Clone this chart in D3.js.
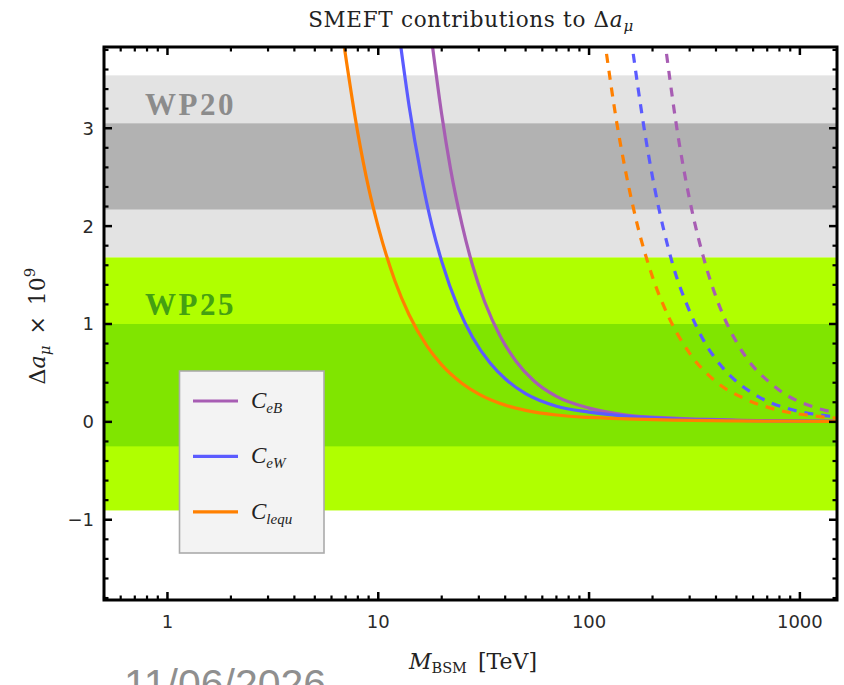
<!DOCTYPE html>
<html><head><meta charset="utf-8">
<script src="https://cdn.jsdelivr.net/npm/d3@7"></script>
<style>body{margin:0;background:#fff;}svg{display:block;}</style>
</head><body>
<svg id="chart" width="844" height="685"></svg>
<script>
// ---------- data ----------
const xDomain = [0.5, 1500];
const yDomain = [-1.82, 3.83];
const xTickValues = [1, 10, 100, 1000];
const xTickLabels = ["1", "10", "100", "1000"];
const yTickValues = [-1, 0, 1, 2, 3];
const yTickLabels = ["\u22121", "0", "1", "2", "3"];

// bands: [low, high]
const wp20Outer = [1.68, 3.54];
const wp20Inner = [2.17, 3.05];
const wp25Outer = [-0.905, 1.68];
const wp25Inner = [-0.25, 1.0];

// solid curves (M in TeV, Δa_μ × 10^9)
const ceBSolidM = [18.1, 20, 22, 25, 28, 32, 38, 45, 55, 70, 100, 150, 250, 500, 1500];
const ceBSolidV = [3.83, 3.14, 2.59, 2.01, 1.60, 1.225, 0.87, 0.62, 0.415, 0.26, 0.14, 0.07, 0.038, 0.018, 0.006];
const ceWSolidM = [12.8, 14, 16, 18, 20, 24, 28, 34, 40, 50, 70, 100, 150, 250, 500, 1500];
const ceWSolidV = [3.83, 3.23, 2.51, 2.00, 1.64, 1.16, 0.865, 0.598, 0.44, 0.288, 0.16, 0.10, 0.058, 0.03, 0.014, 0.005];
const cleSolidM = [6.9, 8, 9, 10, 12, 14, 17, 20, 25, 30, 40, 50, 70, 100, 150, 250, 500, 1500];
const cleSolidV = [3.83, 2.95, 2.39, 1.99, 1.44, 1.095, 0.776, 0.582, 0.393, 0.284, 0.171, 0.118, 0.07, 0.045, 0.03, 0.018, 0.01, 0.005];

// dashed curves
const ceBDashM = [233, 260, 300, 350, 420, 500, 600, 713, 850, 1000, 1200, 1500];
const ceBDashV = [3.76, 3.02, 2.27, 1.67, 1.157, 0.817, 0.567, 0.41, 0.283, 0.204, 0.142, 0.091];
const ceWDashM = [162, 180, 205, 225, 250, 300, 350, 420, 490, 600, 700, 850, 1000, 1200, 1500];
const ceWDashV = [3.76, 3.08, 2.38, 1.98, 1.60, 1.13, 0.83, 0.58, 0.43, 0.29, 0.21, 0.145, 0.104, 0.075, 0.05];
const cleDashM = [121, 135, 150, 170, 200, 240, 300, 400, 550, 800, 1150, 1500];
const cleDashV = [3.76, 3.07, 2.53, 2.00, 1.48, 1.06, 0.70, 0.41, 0.235, 0.117, 0.062, 0.038];

const seriesNames = ["eB", "eW", "lequ"];
const seriesColors = ["#a75db3", "#5b5bff", "#ff8000"];

// ---------- layout ----------
const svg = d3.select("#chart");
const L = 104, R = 837, T = 47, B = 600;
const x = d3.scaleLog().domain(xDomain).range([L, R]);
const y = d3.scaleLinear().domain(yDomain).range([B, T]);

svg.append("defs").append("clipPath").attr("id", "clip")
  .append("rect").attr("x", L).attr("y", T).attr("width", R - L).attr("height", B - T);

const plot = svg.append("g").attr("clip-path", "url(#clip)");

function band(b, color) {
  plot.append("rect").attr("x", L).attr("width", R - L)
    .attr("y", y(b[1])).attr("height", y(b[0]) - y(b[1])).attr("fill", color);
}
band(wp20Outer, "#e3e3e3");
band(wp20Inner, "#b2b2b2");
band(wp25Outer, "#b0ff00");
band(wp25Inner, "#80e500");

plot.append("text").attr("x", 145).attr("y", 115)
  .attr("font-family", "Liberation Serif, serif").attr("font-weight", "bold")
  .attr("font-size", 31).attr("letter-spacing", 2.5).attr("fill", "#8c8c8c").text("WP20");
plot.append("text").attr("x", 145).attr("y", 315)
  .attr("font-family", "Liberation Serif, serif").attr("font-weight", "bold")
  .attr("font-size", 31).attr("letter-spacing", 2.5).attr("fill", "#44a012").text("WP25");

const line = d3.line().x(d => x(d[0])).y(d => y(d[1])).curve(d3.curveMonotoneX);
function curve(ms, vs, color, dashed) {
  const pts = ms.map((m, i) => [m, vs[i]]);
  plot.append("path").datum(pts).attr("d", line).attr("fill", "none")
    .attr("stroke", color).attr("stroke-width", 3.2)
    .attr("stroke-dasharray", dashed ? "9,8" : null);
}
curve(ceBSolidM, ceBSolidV, seriesColors[0], false);
curve(ceWSolidM, ceWSolidV, seriesColors[1], false);
curve(cleSolidM, cleSolidV, seriesColors[2], false);
curve(ceBDashM, ceBDashV, seriesColors[0], true);
curve(ceWDashM, ceWDashV, seriesColors[1], true);
curve(cleDashM, cleDashV, seriesColors[2], true);

// ---------- legend ----------
const lg = svg.append("g");
lg.append("rect").attr("x", 179.5).attr("y", 371).attr("width", 144.5).attr("height", 182)
  .attr("fill", "#f3f3f3").attr("stroke", "#ababab").attr("stroke-width", 1.6);
seriesNames.forEach((n, i) => {
  const yy = 401 + i * 55.4;
  lg.append("line").attr("x1", 193).attr("x2", 238).attr("y1", yy).attr("y2", yy)
    .attr("stroke", seriesColors[i]).attr("stroke-width", 3.2);
  const t = lg.append("text").attr("x", 251).attr("y", yy + 7)
    .attr("font-family", "Liberation Serif, serif").attr("font-style", "italic")
    .attr("font-size", 23).attr("fill", "#222");
  t.append("tspan").text("C");
  t.append("tspan").attr("dy", 5).attr("font-size", 15).text(n);
});

// ---------- frame & ticks ----------
const ax = svg.append("g").attr("stroke", "#000");
ax.append("rect").attr("x", L).attr("y", T).attr("width", R - L).attr("height", B - T)
  .attr("fill", "none").attr("stroke-width", 3);

const xMinor = [];
for (let e = -1; e <= 3; e++) for (let k = 1; k <= 9; k++) {
  const v = k * Math.pow(10, e);
  if (v >= xDomain[0] && v <= xDomain[1] && k !== 1) xMinor.push(v);
}
const yMinor = d3.range(-18, 39, 2).map(v => v / 10).filter(v => Math.abs(v - Math.round(v)) > 1e-6);

xTickValues.forEach(v => {
  ax.append("line").attr("x1", x(v)).attr("x2", x(v)).attr("y1", B).attr("y2", B - 8).attr("stroke-width", 2.5);
  ax.append("line").attr("x1", x(v)).attr("x2", x(v)).attr("y1", T).attr("y2", T + 8).attr("stroke-width", 2.5);
});
xMinor.forEach(v => {
  ax.append("line").attr("x1", x(v)).attr("x2", x(v)).attr("y1", B).attr("y2", B - 4.5).attr("stroke-width", 2.2);
  ax.append("line").attr("x1", x(v)).attr("x2", x(v)).attr("y1", T).attr("y2", T + 4.5).attr("stroke-width", 2.2);
});
yTickValues.forEach(v => {
  ax.append("line").attr("x1", L).attr("x2", L + 8).attr("y1", y(v)).attr("y2", y(v)).attr("stroke-width", 2.5);
  ax.append("line").attr("x1", R).attr("x2", R - 8).attr("y1", y(v)).attr("y2", y(v)).attr("stroke-width", 2.5);
});
yMinor.forEach(v => {
  ax.append("line").attr("x1", L).attr("x2", L + 4.5).attr("y1", y(v)).attr("y2", y(v)).attr("stroke-width", 2.2);
  ax.append("line").attr("x1", R).attr("x2", R - 4.5).attr("y1", y(v)).attr("y2", y(v)).attr("stroke-width", 2.2);
});

const tickFont = "DejaVu Sans, sans-serif";
xTickValues.forEach((v, i) => {
  svg.append("text").attr("x", x(v)).attr("y", 628).attr("text-anchor", "middle")
    .attr("font-family", tickFont).attr("font-size", 18).attr("fill", "#2a2a2a").text(xTickLabels[i]);
});
yTickValues.forEach((v, i) => {
  svg.append("text").attr("x", 94).attr("y", y(v) + 6.5).attr("text-anchor", "end")
    .attr("font-family", tickFont).attr("font-size", 18).attr("fill", "#2a2a2a").text(yTickLabels[i]);
});

// ---------- title & axis labels ----------
const serif = "DejaVu Serif, serif";
const title = svg.append("text").attr("x", 471).attr("y", 27).attr("text-anchor", "middle")
  .attr("font-family", serif).attr("font-size", 21.5).attr("letter-spacing", 0.7).attr("fill", "#222");
title.append("tspan").text("SMEFT contributions to \u0394");
title.append("tspan").attr("font-style", "italic").text("a");
title.append("tspan").attr("font-style", "italic").attr("font-size", 15).attr("dy", 4).text("\u03bc");

const xl = svg.append("text").attr("x", 473).attr("y", 669).attr("text-anchor", "middle")
  .attr("font-family", serif).attr("font-size", 22).attr("fill", "#222");
xl.append("tspan").attr("font-style", "italic").text("M");
xl.append("tspan").attr("font-size", 14.5).attr("dy", 4).text("BSM");
xl.append("tspan").attr("dy", -4).text("\u2002[TeV]");

const yl = svg.append("text").attr("transform", "translate(45,326) rotate(-90)")
  .attr("text-anchor", "middle").attr("font-family", serif).attr("font-size", 22).attr("fill", "#222");
yl.append("tspan").text("\u0394");
yl.append("tspan").attr("font-style", "italic").text("a");
yl.append("tspan").attr("font-style", "italic").attr("font-size", 15).attr("dy", 5).text("\u03bc");
yl.append("tspan").attr("dy", -5).text("\u2002\u00d7\u200210");
yl.append("tspan").attr("font-size", 15).attr("dy", -10).text("9");

// footer date (partially cut off, as in the source slide)
svg.append("text").attr("x", 124).attr("y", 698)
  .attr("font-family", "Liberation Sans, sans-serif").attr("font-size", 41)
  .attr("fill", "#8f8f8f").text("11/06/2026");
</script>
</body></html>
